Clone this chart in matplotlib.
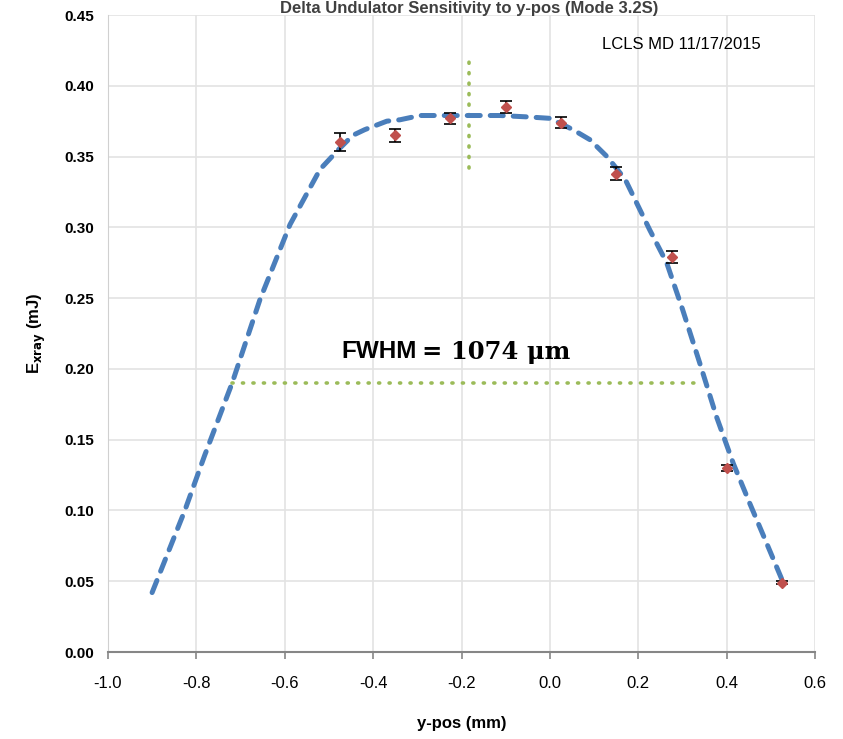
import numpy as np
import matplotlib.pyplot as plt

plt.rcParams['font.family'] = ['Liberation Sans', 'DejaVu Sans']

### DATA ###

# measured points
ypos = [-0.475, -0.35, -0.225, -0.1, 0.025, 0.15, 0.275, 0.4, 0.525]
exray = [0.360, 0.365, 0.377, 0.385, 0.374, 0.338, 0.279, 0.130, 0.049]
err = [0.0064, 0.0045, 0.004, 0.004, 0.004, 0.0047, 0.004, 0.0022, 0.0012]

# fitted curve
fit_x = [-0.900, -0.863, -0.826, -0.781, -0.719, -0.656, -0.588, -0.520, -0.475,
         -0.446, -0.419, -0.369, -0.339, -0.294, -0.249, -0.180, -0.113, -0.050,
         0.000, 0.052, 0.090, 0.129, 0.170, 0.226, 0.264, 0.300, 0.339,
         0.377, 0.415, 0.452, 0.490, 0.525]
fit_y = [0.042, 0.071, 0.100, 0.139, 0.190, 0.249, 0.302, 0.341, 0.356,
         0.365, 0.369, 0.375, 0.376, 0.379, 0.379, 0.379, 0.379, 0.378,
         0.377, 0.369, 0.362, 0.350, 0.334, 0.298, 0.275, 0.242, 0.204,
         0.166, 0.133, 0.105, 0.077, 0.051]

# FWHM markers
center_x = [-0.183, -0.183]
center_y = [0.342, 0.418]
half_x = [-0.720, 0.339]
half_y = [0.190, 0.190]

xticks = [-1.0, -0.8, -0.6, -0.4, -0.2, 0.0, 0.2, 0.4, 0.6]
yticks = [0.00, 0.05, 0.10, 0.15, 0.20, 0.25, 0.30, 0.35, 0.40, 0.45]

### PLOT ###

fig = plt.figure(figsize=(8.43, 7.39), dpi=100)
ax = fig.add_axes([0.128, 0.1177, 0.839, 0.862])

ax.plot(fit_x, fit_y, color='#4a7ebb', lw=3.6, linestyle=(0, (2.6, 2.0)),
        dash_capstyle='round', zorder=3)
ax.plot(center_x, center_y, color='#9bbb59', lw=2.6, linestyle=(0, (0.3, 2.6)),
        dash_capstyle='round', zorder=2)
ax.plot(half_x, half_y, color='#9bbb59', lw=2.6, linestyle=(0, (0.3, 2.6)),
        dash_capstyle='round', zorder=2)
ax.errorbar(ypos, exray, yerr=err, fmt='D', color='#c0504d', ms=5.5,
            ecolor='black', elinewidth=1.2, capsize=4.5, capthick=1.2, zorder=4)

ax.set_xlim(-1.0, 0.6)
ax.set_ylim(0.0, 0.45)
ax.set_xticks(xticks)
ax.set_xticklabels([f"{t:.1f}" for t in xticks], fontsize=12)
ax.set_yticks(yticks)
ax.set_yticklabels([f"{t:.2f}" for t in yticks], fontsize=11, fontweight='bold')

ax.grid(color='#e3e3e3', lw=1.2)
ax.set_axisbelow(True)
for s in ['top', 'right']:
    ax.spines[s].set_visible(False)
ax.spines['left'].set_color('#d0d0d0')
ax.spines['bottom'].set_color('#868686')
ax.spines['bottom'].set_linewidth(1.5)
ax.tick_params(axis='x', length=5, color='#868686', width=1.2, pad=12)
ax.tick_params(axis='y', length=0, pad=10)

ax.set_xlabel("y-pos (mm)", fontsize=12, fontweight='bold', labelpad=18)
ax.set_ylabel(r"E$_{\mathbf{xray}}$ (mJ)", fontsize=12, fontweight='bold', labelpad=12)

# annotations
ax.text(-0.302, 0.212, "FWHM", fontsize=17.5, fontweight='bold', ha='right', va='center')
ax.text(-0.290, 0.212, "= 1074 μm", fontsize=17.5, fontweight='bold',
        family='DejaVu Serif', ha='left', va='center')
ax.text(0.297, 0.429, "LCLS MD 11/17/2015", fontsize=12, ha='center', va='center')

# chart title, squeezed into the strip above the plot area
fig.text(0.557, 0.999, "Delta Undulator Sensitivity to y-pos (Mode 3.2S)",
         fontsize=12, fontweight='bold', color='#404040', ha='center', va='top')

plt.savefig("out.png", dpi=100)
